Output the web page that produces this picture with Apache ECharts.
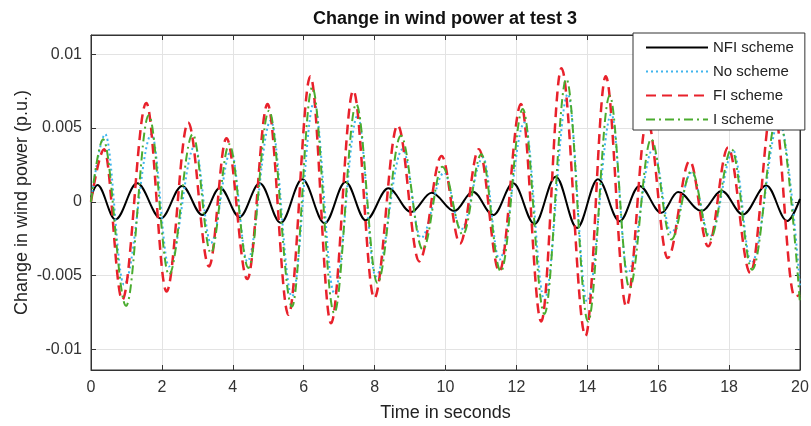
<!DOCTYPE html>
<html>
<head>
<meta charset="utf-8">
<script src="https://cdn.jsdelivr.net/npm/echarts@6/dist/echarts.min.js"></script>
<style>
html,body{margin:0;padding:0;background:#fff;}
#chart{width:811px;height:426px;}
</style>
</head>
<body>
<div id="chart"></div>
<script>
// Data: extrema [time (s), change in wind power (p.u.)]
const nfiScheme = [
  [0,0.0003],[0.18,0.00113],[0.69,-0.0012],[1.30,0.00125],[1.97,-0.00113],[2.57,0.00107],
  [3.14,-0.0009],[3.64,0.00095],[4.19,-0.00104],[4.76,0.00125],[5.35,-0.00143],[5.96,0.00152],
  [6.59,-0.00145],[7.18,0.00134],[7.75,-0.00125],[8.39,0.00091],[9.03,-0.0007],[9.61,0.00061],
  [10.25,-0.00063],[10.77,0.00068],[11.35,-0.0009],[11.91,0.00125],[12.51,-0.0015],[13.11,0.0017],
  [13.71,-0.00177],[14.30,0.00152],[14.91,-0.00132],[15.47,0.00107],[16.09,-0.00075],[16.56,0.00066],
  [17.22,-0.00063],[17.79,0.00073],[18.39,-0.00086],[19.05,0.0011],[19.64,-0.0013],[20,0.0002]
];
const noScheme = [
  [0,0],[0.40,0.00458],[0.93,-0.00562],[1.71,0.00458],[2.20,-0.00438],[2.93,0.00379],
  [3.38,-0.0028],[3.95,0.00345],[4.41,-0.00404],[5.07,0.00549],[5.67,-0.00642],[6.29,0.00673],
  [6.86,-0.00619],[7.52,0.00583],[8.03,-0.00506],[8.79,0.00356],[9.31,-0.00245],[9.96,0.00197],
  [10.44,-0.00188],[11.06,0.003],[11.52,-0.00392],[12.23,0.00537],[12.79,-0.00664],[13.45,0.0073],
  [13.99,-0.00676],[14.68,0.00594],[15.14,-0.00483],[15.85,0.00356],[16.37,-0.00211],[16.94,0.00197],
  [17.46,-0.00234],[18.12,0.00345],[18.63,-0.00415],[19.42,0.0055],[20,-0.0057]
];
const fiScheme = [
  [0,0],[0.37,0.00356],[0.88,-0.00664],[1.56,0.00669],[2.13,-0.00608],[2.74,0.00537],
  [3.33,-0.00438],[3.82,0.00431],[4.41,-0.00524],[4.98,0.00662],[5.57,-0.00766],[6.19,0.0085],
  [6.77,-0.00823],[7.40,0.00753],[7.99,-0.00653],[8.65,0.00519],[9.26,-0.00404],[9.89,0.0031],
  [10.41,-0.00283],[10.94,0.00356],[11.52,-0.00472],[12.13,0.00662],[12.70,-0.00812],[13.27,0.00905],
  [13.95,-0.00909],[14.52,0.0085],[15.10,-0.0071],[15.69,0.0056],[16.27,-0.00381],[16.89,0.00277],
  [17.41,-0.00302],[17.97,0.00367],[18.60,-0.00483],[19.24,0.0068],[19.85,-0.00642],[20,-0.0063]
];
const iScheme = [
  [0,0],[0.34,0.00424],[0.99,-0.00705],[1.63,0.00587],[2.20,-0.00494],[2.87,0.00458],
  [3.38,-0.00347],[3.90,0.0039],[4.44,-0.00449],[5.02,0.00617],[5.67,-0.0071],[6.24,0.00776],
  [6.86,-0.00755],[7.48,0.00662],[8.08,-0.00551],[8.74,0.00447],[9.36,-0.00324],[9.91,0.00237],
  [10.49,-0.00222],[11.01,0.00322],[11.56,-0.00472],[12.18,0.00628],[12.79,-0.0076],[13.41,0.00832],
  [14.02,-0.00812],[14.63,0.00719],[15.19,-0.00585],[15.80,0.00424],[16.37,-0.00256],[16.94,0.00209],
  [17.46,-0.00256],[18.07,0.00356],[18.65,-0.0046],[19.38,0.006],[20,-0.0069]
];
const seriesNames = ['NFI scheme','No scheme','FI scheme','I scheme'];
const xTickStep = 2;
const yTickStep = 0.005;

const FONT = "'Liberation Sans', Arial, Helvetica, sans-serif";
const chart = echarts.init(document.getElementById('chart'), null, {renderer:'canvas'});

function yFmt(v){
  const r = Math.round(v / yTickStep);
  if (Math.abs(v - r * yTickStep) > 1e-9) return '';
  return String(+(r * yTickStep).toFixed(3));
}
const yCommon = {
  type:'value', min:-0.0114, max:0.0113, splitNumber:5,
  minInterval:yTickStep, maxInterval:yTickStep
};
const xCommon = { type:'value', min:0, max:20, interval:xTickStep };
const SM = 0.36;
const AX = '#333';
const tickStyle = {show:true, inside:true, length:5, lineStyle:{color:AX}};
const lineStyleAx = {show:true, onZero:false, lineStyle:{color:AX}};

chart.setOption({
  animation:false,
  backgroundColor:'#fff',
  title:{
    text:'Change in wind power at test 3',
    left:445, top:10, textAlign:'center', padding:0,
    textStyle:{fontFamily:FONT, fontSize:18, fontWeight:'bold', color:'#111'}
  },
  legend:{
    data:seriesNames, orient:'vertical', left:633, top:33,
    itemWidth:62, itemHeight:14, itemGap:9,
    padding:[7,11,3,12],
    backgroundColor:'#fff', borderColor:'#333', borderWidth:1,
    itemStyle:{opacity:0},
    textStyle:{fontFamily:FONT, fontSize:15, color:'#222'}
  },
  grid:{left:91, right:11, top:35, bottom:56, containLabel:false, outerBoundsMode:'none',
        show:true, borderColor:AX, borderWidth:1, backgroundColor:'transparent'},
  xAxis:[
    Object.assign({}, xCommon, {
      position:'bottom',
      name:'Time in seconds', nameLocation:'middle', nameGap:34, nameMoveOverlap:false,
      nameTextStyle:{fontFamily:FONT, fontSize:18, color:'#222'},
      axisLine:lineStyleAx, axisTick:tickStyle,
      axisLabel:{fontFamily:FONT, fontSize:16, color:'#333', margin:10},
      splitLine:{show:true, lineStyle:{color:'#e3e3e3', width:1}}
    }),
    Object.assign({}, xCommon, {
      position:'top',
      axisLine:lineStyleAx, axisTick:tickStyle,
      axisLabel:{show:false}, splitLine:{show:false}
    })
  ],
  yAxis:[
    Object.assign({}, yCommon, {
      position:'left',
      name:'Change in wind power (p.u.)', nameLocation:'middle', nameGap:60, nameMoveOverlap:false,
      nameTextStyle:{fontFamily:FONT, fontSize:18, color:'#222'},
      axisLine:lineStyleAx, axisTick:tickStyle,
      axisLabel:{fontFamily:FONT, fontSize:16, color:'#333', margin:9, formatter:yFmt, showMinLabel:false, showMaxLabel:false},
      splitLine:{show:true, lineStyle:{color:'#e3e3e3', width:1}}
    }),
    Object.assign({}, yCommon, {
      position:'right',
      axisLine:lineStyleAx, axisTick:tickStyle,
      axisLabel:{show:false}, splitLine:{show:false}
    })
  ],
  series:[
    {name:seriesNames[0], type:'line', data:nfiScheme, smooth:SM, smoothMonotone:'x', symbol:'none',
     lineStyle:{color:'#000', width:2, type:'solid'}, itemStyle:{color:'#000'}},
    {name:seriesNames[1], type:'line', data:noScheme, smooth:SM, smoothMonotone:'x', symbol:'none',
     lineStyle:{color:'#3fb5ee', width:2, type:[2,3]}, itemStyle:{color:'#3fb5ee'}},
    {name:seriesNames[2], type:'line', data:fiScheme, smooth:SM, smoothMonotone:'x', symbol:'none',
     lineStyle:{color:'#e8212b', width:2.5, type:[10,6]}, itemStyle:{color:'#e8212b'}},
    {name:seriesNames[3], type:'line', data:iScheme, smooth:SM, smoothMonotone:'x', symbol:'none',
     lineStyle:{color:'#4aac2e', width:2, type:[9,4,2,4]}, itemStyle:{color:'#4aac2e'}}
  ]
});
</script>
</body>
</html>
